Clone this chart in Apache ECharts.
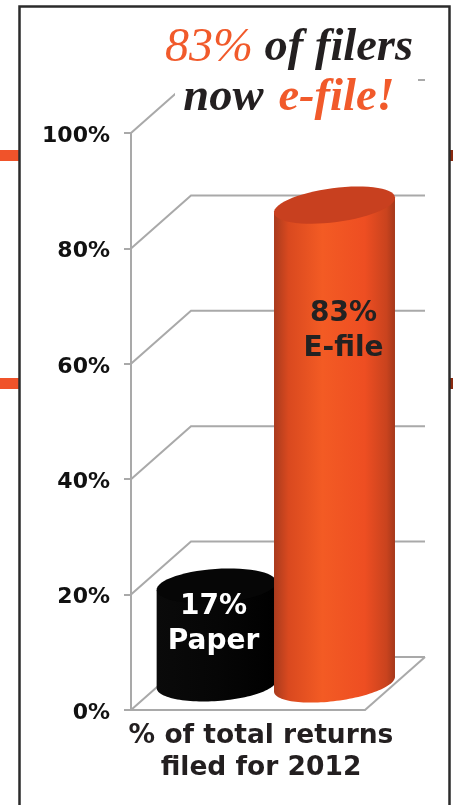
<!DOCTYPE html>
<html><head><meta charset="utf-8">
<style>html,body{margin:0;padding:0;background:#fff}#c{width:453px;height:805px}</style>
<script src="https://cdn.jsdelivr.net/npm/echarts@6/dist/echarts.min.js"></script>
</head><body><div id="c"></div>
<script>
const categories = ['Paper', 'E-file'];
const shareValues = [17, 83];
const shareLabels = ['17%\nPaper', '83%\nE-file'];
const tickValues = [0, 20, 40, 60, 80, 100];
const xAxisTitle = '% of total returns\nfiled for 2012';
const titleText = '{o|83%}{b| of filers}\n{b|now}{sp| }{e|e-file!}';

const DEPTH_X = 60, DEPTH_Y = 53;
const GRID_COLOR = '#a9a9a9';
const SANS = '"DejaVu Sans", sans-serif';
const SERIF = '"Liberation Serif", serif';

function ell(cx, cy, a, b, th, t) {
  const c = Math.cos(th), s = Math.sin(th);
  return [cx + a * Math.cos(t) * c - b * Math.sin(t) * s, cy + a * Math.cos(t) * s + b * Math.sin(t) * c];
}
function arc(cx, cy, a, b, th, t0, t1) {
  const pts = [];
  for (let i = 0; i <= 60; i++) pts.push(ell(cx, cy, a, b, th, t0 + (t1 - t0) * i / 60));
  return pts;
}
const cylStyle = [
  { a: 60, b: 17, th: -0.07, dx: 27, top: '#060606', body: [[0, '#0a0a0a'], [0.5, '#060606'], [1, '#000']], color: '#fff', lx: -3, ly: 38 },
  { a: 61, b: 17, th: -0.13, dx: 28, top: '#c8401f', body: [[0, '#a93b1e'], [0.12, '#d9491f'], [0.4, '#f35b24'], [0.75, '#ee4e22'], [0.93, '#c9431e'], [1, '#a5381b']], color: '#222', lx: 9, ly: 126 }
];

const option = {
  animation: false,
  backgroundColor: '#fff',
  title: {
    text: titleText, left: 284, top: 18, textAlign: 'center', z: 20,
    textStyle: {
      rich: {
        o: { fontFamily: SERIF, fontStyle: 'italic', fontWeight: 'normal', fontSize: 48, lineHeight: 50, color: '#f15a2b' },
        b: { fontFamily: SERIF, fontStyle: 'italic', fontWeight: 'bold', fontSize: 46.5, lineHeight: 50, color: '#231f20' },
        e: { fontFamily: SERIF, fontStyle: 'italic', fontWeight: 'bold', fontSize: 46.5, lineHeight: 50, color: '#f15a2b' },
        sp: { fontFamily: SERIF, fontSize: 60, lineHeight: 50, color: '#231f20' }
      }
    }
  },
  grid: { left: 131, right: 88, top: 133, bottom: 95, outerBoundsMode: 'none', containLabel: false },
  xAxis: {
    type: 'category', data: categories,
    axisLine: { lineStyle: { color: GRID_COLOR, width: 2 } },
    axisTick: { show: false }, axisLabel: { show: false },
    name: xAxisTitle, nameLocation: 'middle', nameGap: 10,
    nameTextStyle: { fontFamily: SANS, fontWeight: 'bold', fontSize: 26.5, lineHeight: 32, color: '#231f20', padding: [0, 0, 0, 26] }
  },
  yAxis: {
    type: 'value', min: 0, max: 100, interval: 20,
    axisLine: { show: true, lineStyle: { color: GRID_COLOR, width: 2 } },
    axisTick: { show: true, length: 7, lineStyle: { color: GRID_COLOR, width: 2 } },
    splitLine: { show: false },
    axisLabel: { formatter: '{value}%', margin: 21, fontFamily: SANS, fontWeight: 'bold', fontSize: 22, color: '#111', verticalAlign: 'top', lineHeight: 6 }
  },
  series: [
    {
      type: 'custom', z: 2, clip: false, silent: true,
      data: tickValues.map(v => [0, v]),
      renderItem(params, api) {
        const y = api.coord([0, api.value(1)])[1];
        const g = params.coordSys, x0 = g.x, x1 = g.x + g.width;
        return {
          type: 'group', children: [
            { type: 'polyline', shape: { points: [[x0, y], [x0 + DEPTH_X, y - DEPTH_Y], [x1 + DEPTH_X, y - DEPTH_Y]] }, style: { fill: 'none', stroke: GRID_COLOR, lineWidth: 2 } }
          ].concat(api.value(1) === 0 ? [{ type: 'line', shape: { x1: x1, y1: y, x2: x1 + DEPTH_X, y2: y - DEPTH_Y }, style: { stroke: GRID_COLOR, lineWidth: 2 } }] : [])
        };
      }
    },
    {
      type: 'custom', z: 6, clip: false, silent: true,
      data: categories.map((c, i) => [i, shareValues[i]]),
      renderItem(params, api) {
        const i = api.value(0), st = cylStyle[i];
        const base = api.coord([i, 0]), top = api.coord([i, api.value(1)]);
        const cx = base[0] + st.dx, by = base[1] - 26, ty = top[1] - 26;
        const lower = arc(cx, by, st.a, st.b, st.th, Math.PI, 0);
        const right = ell(cx, ty, st.a, st.b, st.th, 0), left = ell(cx, ty, st.a, st.b, st.th, Math.PI);
        return {
          type: 'group', children: [
            { type: 'polygon', shape: { points: lower.concat([right, left]) }, style: { fill: { type: 'linear', x: 0, y: 0, x2: 1, y2: 0, colorStops: st.body.map(s => ({ offset: s[0], color: s[1] })) } } },
            { type: 'polygon', shape: { points: arc(cx, ty, st.a, st.b, st.th, 0, Math.PI * 2) }, style: { fill: st.top } },
            { type: 'text', style: { x: cx + st.lx, y: ty + st.ly, text: shareLabels[i], align: 'center', verticalAlign: 'middle', fontFamily: SANS, fontWeight: 'bold', fontSize: 28, lineHeight: 35, fill: st.color } }
          ]
        };
      }
    }
  ],
  graphic: [
    { type: 'rect', z: -1, shape: { x: 0, y: 150, width: 20, height: 11 }, style: { fill: '#f0532a' } },
    { type: 'rect', z: -1, shape: { x: 0, y: 378, width: 20, height: 11 }, style: { fill: '#f0532a' } },
    { type: 'rect', z: -1, shape: { x: 450, y: 150, width: 3, height: 11 }, style: { fill: '#8a2a10' } },
    { type: 'rect', z: -1, shape: { x: 450, y: 378, width: 3, height: 11 }, style: { fill: '#8a2a10' } },
    { type: 'rect', z: 0, shape: { x: 19.5, y: 6.5, width: 430, height: 810 }, style: { fill: 'none', stroke: '#2b2b2b', lineWidth: 2.5 } },
    { type: 'rect', z: 5, shape: { x: 175, y: 20, width: 243, height: 100 }, style: { fill: '#fff' } }
  ]
};
echarts.init(document.getElementById('c')).setOption(option);
</script></body></html>
